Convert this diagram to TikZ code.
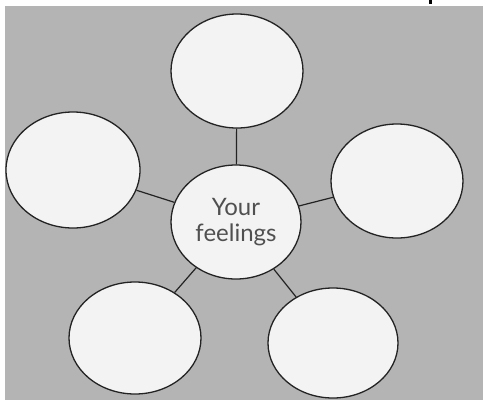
\documentclass[tikz,border=0pt]{standalone}
\usepackage{fontspec}
\setmainfont{Lato}
\usetikzlibrary{shapes.geometric}

\definecolor{paper}{RGB}{180,180,180}
\definecolor{bubblefill}{RGB}{243,243,243}
\definecolor{ink}{RGB}{35,35,35}
\definecolor{labelgray}{RGB}{80,80,80}

\begin{document}
\begin{tikzpicture}[x=1pt, y=-1pt,
  bubble/.style={ellipse, draw=ink, line width=1.3pt, fill=bubblefill,
    inner sep=0pt, minimum width=132pt, minimum height=114pt},
  spoke/.style={draw=ink, line width=1.2pt}]
  \useasboundingbox (0,0) rectangle (483,400);
  \fill[white] (0,0) rectangle (483,400);
  \fill[paper] (5,6) rectangle (483,400);
  \fill[black] (429,0) rectangle (431.5,3.5);

  % centre and the five empty bubbles
  \node[bubble, minimum width=130pt, align=center, text=labelgray,
    font=\fontsize{24}{26}\selectfont] (Feel) at (236,222) {Your\\feelings};
  \node[bubble] (Top) at (237,71) {};
  \node[bubble, minimum width=134pt, minimum height=116pt] (Left) at (73,170) {};
  \node[bubble] (Right) at (397,181) {};
  \node[bubble, minimum height=112pt] (LowL) at (135,338) {};
  \node[bubble, minimum width=130pt, minimum height=110pt] (LowR) at (333,343) {};

  \draw[spoke] (Feel) -- (Top);
  \draw[spoke] (Feel) -- (Left);
  \draw[spoke] (Feel) -- (Right);
  \draw[spoke] (Feel) -- (LowL);
  \draw[spoke] (Feel) -- (LowR);
\end{tikzpicture}
\end{document}
